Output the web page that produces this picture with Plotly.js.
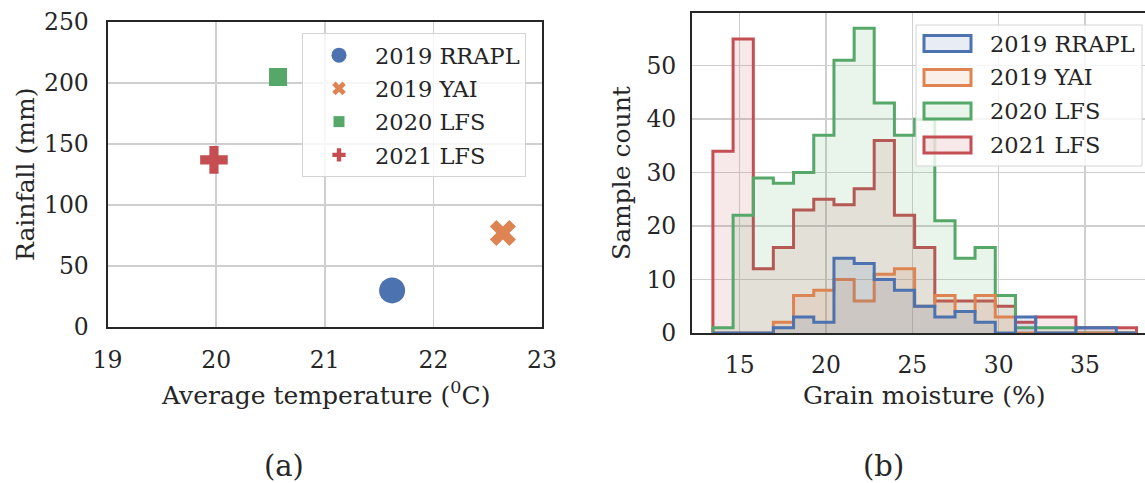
<!DOCTYPE html>
<html>
<head>
<meta charset="utf-8">
<script src="https://cdn.plot.ly/plotly-3.0.1.min.js"></script>
<style>
  html, body { margin: 0; padding: 0; background: #ffffff; }
  #chart { width: 1145px; height: 483px; }
</style>
</head>
<body>
<div id="chart"></div>
<script>
// ---------- data: panel (a) ----------
const sites = ['2019 RRAPL', '2019 YAI', '2020 LFS', '2021 LFS'];
const temperature = [21.62, 22.64, 20.57, 19.98];   // average temperature (0C)
const rainfall = [30, 77, 205, 137];                // rainfall (mm)

// ---------- data: panel (b) ----------
const binEdges = [13.45, 14.62, 15.79, 16.95, 18.12, 19.29, 20.46, 21.63, 22.79, 23.96, 25.13,
                  26.30, 27.47, 28.63, 29.80, 30.97, 32.14, 33.31, 34.47, 35.64, 36.81, 37.98];
const countsRRAPL2019 = [0, 0, 0, 1, 3, 2, 14, 13, 10, 8, 5, 3, 4, 2, 0, 3, 0, 0, 1, 1, 0];
const countsYAI2019   = [0, 0, 0, 2, 7, 8, 10, 6, 11, 12, 5, 7, 4, 7, 3, 0, 0, 0, 0, 0, 0];
const countsLFS2020   = [1, 22, 29, 28, 30, 37, 51, 57, 43, 37, 40, 21, 14, 16, 7, 1, 1, 1, 0, 0, 0];
const countsLFS2021   = [34, 55, 12, 16, 23, 25, 24, 27, 36, 22, 16, 6, 6, 6, 5, 2, 3, 3, 1, 1, 1];

const xTicksA = [19, 20, 21, 22, 23];
const yTicksA = [0, 50, 100, 150, 200, 250];
const xTicksB = [15, 20, 25, 30, 35];
const yTicksB = [0, 10, 20, 30, 40, 50];

// ---------- styling ----------
const colors = ['#4C72B0', '#DD8452', '#55A868', '#C44E52'];
const fills = ['rgba(76,114,176,0.13)', 'rgba(221,132,82,0.13)', 'rgba(85,168,104,0.13)', 'rgba(196,78,82,0.13)'];
const symbols = ['circle', 'x', 'square', 'cross'];
const plotSizes = [26, 23, 18, 23];
const legendSizes = [15, 12, 11, 11];
const FONT = 'DejaVu Serif, serif';
const TXT = '#262626';
const W = 1145, H = 483;
const px = v => v / W;
const py = v => 1 - v / H;

const traces = [];

// panel (a) scatter points
sites.forEach((s, i) => {
  traces.push({
    type: 'scatter', mode: 'markers', xaxis: 'x', yaxis: 'y',
    x: [temperature[i]], y: [rainfall[i]], name: s, showlegend: false,
    marker: { symbol: symbols[i], size: plotSizes[i], color: colors[i], line: { width: 0 } },
    hoverinfo: 'x+y+name'
  });
});
// panel (a) legend entries
sites.forEach((s, i) => {
  traces.push({
    type: 'scatter', mode: 'markers', xaxis: 'x', yaxis: 'y',
    x: [null], y: [null], name: s, legend: 'legend', legendgroup: 'g' + i,
    marker: { symbol: symbols[i], size: legendSizes[i], color: colors[i], line: { width: 0 } }
  });
});

// panel (b) step histograms (drawn in reverse order, first series on top)
const series = [countsRRAPL2019, countsYAI2019, countsLFS2020, countsLFS2021];
function stepXY(counts) {
  const xs = [binEdges[0]], ys = [0];
  counts.forEach((c, k) => { xs.push(binEdges[k]); ys.push(c); });
  xs.push(binEdges[binEdges.length - 1]); ys.push(counts[counts.length - 1]);
  xs.push(binEdges[binEdges.length - 1]); ys.push(0);
  return { xs, ys };
}
for (let i = series.length - 1; i >= 0; i--) {
  const st = stepXY(series[i]);
  traces.push({
    type: 'scatter', mode: 'lines', xaxis: 'x2', yaxis: 'y2',
    x: st.xs, y: st.ys, name: sites[i], showlegend: false,
    line: { shape: 'hv', color: colors[i], width: 3 },
    fill: 'tozeroy', fillcolor: fills[i]
  });
}

// custom legend for panel (b)
const shapes = [];
const annotations = [];
shapes.push({
  type: 'rect', xref: 'paper', yref: 'paper', layer: 'above',
  x0: px(916), x1: px(1142), y0: py(166), y1: py(25),
  fillcolor: 'rgba(255,255,255,0.8)', line: { color: '#d4d4d4', width: 1 }
});
const rowY = [43.5, 77.5, 111, 145];
sites.forEach((s, i) => {
  shapes.push({
    type: 'rect', xref: 'paper', yref: 'paper', layer: 'above',
    x0: px(924), x1: px(971), y0: py(rowY[i] + 8), y1: py(rowY[i] - 8),
    fillcolor: fills[i], line: { color: colors[i], width: 3 }
  });
  annotations.push({
    xref: 'paper', yref: 'paper', x: px(988), y: py(rowY[i]), xanchor: 'left', yanchor: 'middle',
    text: s, showarrow: false, font: { family: FONT, size: 22.5, color: TXT }
  });
});

// axis titles and panel labels
function label(text, x, y, size, angle) {
  annotations.push({
    xref: 'paper', yref: 'paper', x: px(x), y: py(y), xanchor: 'center', yanchor: 'middle',
    text: text, showarrow: false, textangle: angle || 0,
    font: { family: FONT, size: size, color: TXT }
  });
}
label('Average temperature (<sup>0</sup>C)', 325, 393, 25);
label('Rainfall (mm)', 25, 175, 25, -90);
label('Grain moisture (%)', 924, 395, 25);
label('Sample count', 621, 173, 25, -90);
label('(a)', 284, 466, 29);
label('(b)', 883, 466, 29);

const axisCommon = {
  showgrid: true, gridcolor: '#cfcfcf', gridwidth: 1.5, zeroline: false,
  showline: true, linecolor: TXT, linewidth: 2,
  ticks: '', tickfont: { family: FONT, size: 23.5, color: TXT },
  tickmode: 'array', fixedrange: true
};

const layout = {
  width: W, height: H,
  margin: { l: 0, r: 0, t: 0, b: 0, pad: 0 },
  paper_bgcolor: '#ffffff', plot_bgcolor: '#ffffff',
  font: { family: FONT, color: TXT },
  xaxis: Object.assign({}, axisCommon, {
    domain: [px(107.5), px(542)], range: [19, 23], tickvals: xTicksA, ticktext: xTicksA.map(String),
    mirror: true, anchor: 'y', ticklabelstandoff: 11
  }),
  yaxis: Object.assign({}, axisCommon, {
    domain: [py(327), py(22)], range: [0, 250], tickvals: yTicksA, ticktext: yTicksA.map(String),
    mirror: true, anchor: 'x', ticklabelstandoff: 12
  }),
  xaxis2: Object.assign({}, axisCommon, {
    domain: [px(692), 1], range: [12.24, 38.47], tickvals: xTicksB, ticktext: xTicksB.map(String),
    mirror: true, anchor: 'y2', ticklabelstandoff: 10
  }),
  yaxis2: Object.assign({}, axisCommon, {
    domain: [py(333), py(13)], range: [0, 59.85], tickvals: yTicksB, ticktext: yTicksB.map(String),
    mirror: false, anchor: 'x2', ticklabelstandoff: 9
  }),
  legend: {
    x: px(302), y: py(33), xanchor: 'left', yanchor: 'top',
    bgcolor: 'rgba(255,255,255,0.8)', bordercolor: '#d4d4d4', borderwidth: 1,
    font: { family: FONT, size: 22.5, color: TXT },
    traceorder: 'grouped', tracegroupgap: 1, itemsizing: 'trace', itemwidth: 62
  },
  shapes: shapes,
  annotations: annotations,
  showlegend: true
};

Plotly.newPlot('chart', traces, layout, { displayModeBar: false, staticPlot: true });
</script>
</body>
</html>
